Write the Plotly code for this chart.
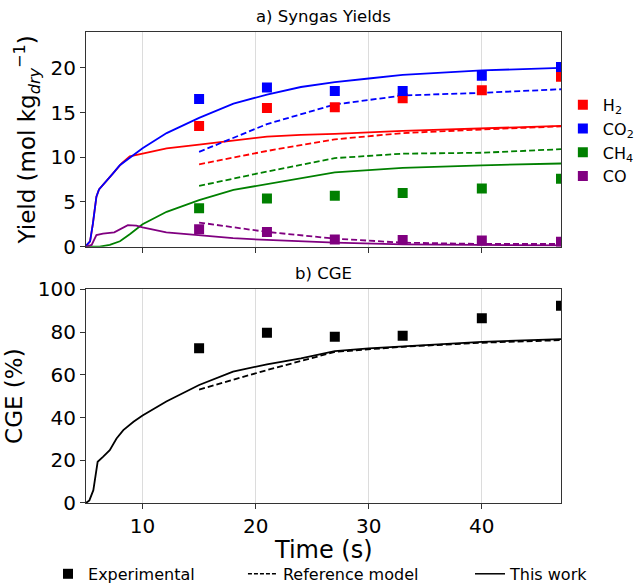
import plotly.graph_objects as go
from plotly.subplots import make_subplots

# ---------------- data ----------------
t_exp = [15, 21, 27, 33, 40, 47]
h2_exp = [13.5, 15.5, 15.6, 16.6, 17.5, 19.0]
co2_exp = [16.5, 17.8, 17.4, 17.4, 19.1, 20.1]
ch4_exp = [4.3, 5.4, 5.7, 6.0, 6.5, 7.6]
co_exp = [1.95, 1.65, 0.8, 0.75, 0.7, 0.55]
cge_exp = [72.4, 79.7, 77.8, 78.3, 86.4, 92.3]

# reference model (dashed)
t_ref = [15, 21, 27, 33, 40, 47]
h2_ref = [9.2, 10.7, 12.0, 12.7, 13.1, 13.45]
co2_ref = [10.6, 13.7, 15.9, 16.9, 17.2, 17.6]
ch4_ref = [6.8, 8.4, 9.9, 10.4, 10.5, 10.9]
co_ref = [2.7, 1.65, 0.9, 0.45, 0.3, 0.3]
cge_ref = [53.1, 62.2, 70.7, 73.1, 75.0, 76.2]

# this work (solid)
t_co2 = [5.0, 5.36, 5.6, 5.92, 6.15, 6.8, 7.39, 7.99, 8.87, 10, 12.13, 15, 18.04, 21, 24, 27, 30, 33, 40, 47]
co2_mod = [0.1, 0.6, 2.5, 5.6, 6.4, 7.3, 8.2, 9.1, 9.9, 11.0, 12.7, 14.4, 16.0, 17.0, 17.85, 18.4, 18.8, 19.2, 19.7, 20.0]

t_h2 = [5.0, 5.36, 5.6, 5.92, 6.15, 6.8, 7.39, 8.15, 8.87, 10, 12.13, 15, 21, 24, 27, 33, 40, 47]
h2_mod = [0.1, 0.6, 2.5, 5.6, 6.4, 7.3, 8.2, 9.3, 10.1, 10.4, 11.0, 11.4, 12.3, 12.5, 12.6, 12.95, 13.25, 13.5]

t_ch4 = [5.0, 6.2, 7.1, 8.0, 8.87, 10, 12.13, 15, 18.04, 21, 24, 27, 33, 40, 47]
ch4_mod = [0.0, 0.0, 0.2, 0.6, 1.4, 2.5, 3.9, 5.2, 6.35, 7.0, 7.65, 8.3, 8.8, 9.1, 9.3]

t_co = [5.0, 5.5, 5.92, 6.5, 7.5, 8.1, 8.7, 9.45, 10, 12.1, 15, 18, 21, 25.7, 27, 33, 40, 47]
co_mod = [0.0, 0.2, 1.3, 1.45, 1.6, 2.0, 2.4, 2.35, 2.15, 1.6, 1.25, 0.95, 0.75, 0.5, 0.45, 0.25, 0.2, 0.15]

t_cge = [5.0, 5.3, 5.65, 6.03, 6.5, 7.1, 7.7, 8.3, 9.2, 10, 12.1, 15, 18, 21, 24, 27, 30, 33, 40, 47]
cge_mod = [0.0, 1.2, 6.0, 19.3, 21.6, 24.7, 30.2, 34.1, 38.0, 40.9, 47.5, 55.2, 61.5, 64.9, 67.7, 71.1, 72.4, 73.4, 75.4, 76.7]

species = ["H<sub>2</sub>", "CO<sub>2</sub>", "CH<sub>4</sub>", "CO"]
colors = ["red", "blue", "green", "purple"]
bottom_names = ["Experimental", "Reference model", "This work"]

x_ticks = [10, 20, 30, 40]
y1_ticks = [0, 5, 10, 15, 20]
y2_ticks = [0, 20, 40, 60, 80, 100]

# ---------------- figure ----------------
fig = make_subplots(rows=2, cols=1, shared_xaxes=False)

exp_sets = [h2_exp, co2_exp, ch4_exp, co_exp]
ref_sets = [h2_ref, co2_ref, ch4_ref, co_ref]
mod_sets = [(t_h2, h2_mod), (t_co2, co2_mod), (t_ch4, ch4_mod), (t_co, co_mod)]

LW = 1.8
DASH = "6px,3px"

for (tm, ym), c in zip(mod_sets, colors):
    fig.add_trace(go.Scatter(x=tm, y=ym, mode="lines", line=dict(color=c, width=LW),
                             showlegend=False), row=1, col=1)
for yr, c in zip(ref_sets, colors):
    fig.add_trace(go.Scatter(x=t_ref, y=yr, mode="lines", line=dict(color=c, width=LW, dash=DASH),
                             showlegend=False), row=1, col=1)
for ye, c, name in zip(exp_sets, colors, species):
    fig.add_trace(go.Scatter(x=t_exp, y=ye, mode="markers", name=name,
                             marker=dict(symbol="square", size=10, color=c),
                             legend="legend"), row=1, col=1)

fig.add_trace(go.Scatter(x=t_cge, y=cge_mod, mode="lines", line=dict(color="black", width=LW),
                         showlegend=False), row=2, col=1)
fig.add_trace(go.Scatter(x=t_ref, y=cge_ref, mode="lines", line=dict(color="black", width=LW, dash=DASH),
                         showlegend=False), row=2, col=1)
fig.add_trace(go.Scatter(x=t_exp, y=cge_exp, mode="markers",
                         marker=dict(symbol="square", size=10, color="black"),
                         showlegend=False), row=2, col=1)

# bottom legend entries (one legend each, laid out in a row)
fig.add_trace(go.Scatter(x=[None], y=[None], mode="markers", name=bottom_names[0],
                         marker=dict(symbol="square", size=10, color="black"),
                         legend="legend2"), row=2, col=1)
fig.add_trace(go.Scatter(x=[None], y=[None], mode="lines", name=bottom_names[1],
                         line=dict(color="black", width=1.5, dash="4px,2px"),
                         legend="legend3"), row=2, col=1)
fig.add_trace(go.Scatter(x=[None], y=[None], mode="lines", name=bottom_names[2],
                         line=dict(color="black", width=1.5),
                         legend="legend4"), row=2, col=1)

FONT = "DejaVu Sans"
axis_common = dict(showline=True, mirror=True, linecolor="#333333", linewidth=1,
                   ticks="outside", ticklen=5, tickcolor="#333333",
                   tickfont=dict(size=20, color="black", family=FONT), zeroline=False)

fig.update_xaxes(range=[5, 47], tickvals=x_ticks, showgrid=True, gridcolor="#dcdcdc", gridwidth=1,
                 **axis_common)
fig.update_xaxes(showticklabels=False, row=1, col=1)
fig.update_yaxes(showgrid=False, **axis_common)
fig.update_yaxes(range=[0, 24], tickvals=y1_ticks, row=1, col=1,
                 title=dict(text="Yield (mol kg<sub><i>dry</i></sub><sup>\u22121</sup>)",
                            font=dict(size=23, family=FONT, color="black"), standoff=8))
fig.update_yaxes(range=[0, 100], tickvals=y2_ticks, row=2, col=1,
                 title=dict(text="CGE (%)", font=dict(size=23, family=FONT, color="black"), standoff=8))

bl = dict(xref="container", yref="container", orientation="h", xanchor="left",
          y=0.019, yanchor="middle", font=dict(size=16, family=FONT), bgcolor="rgba(0,0,0,0)")

fig.update_layout(
    width=636, height=585,
    margin=dict(l=86, r=75, t=32, b=82, autoexpand=False),
    plot_bgcolor="white", paper_bgcolor="white",
    font=dict(family=FONT, color="black"),
    yaxis=dict(domain=[0.5442, 1.0]),
    yaxis2=dict(domain=[0.0, 0.4537]),
    legend=dict(xref="container", yref="container", x=0.885, xanchor="left", y=0.85, yanchor="top",
                font=dict(size=16, family=FONT),
                bgcolor="rgba(0,0,0,0)", borderwidth=0, tracegroupgap=0),
    legend2=dict(bl, x=0.0755),
    legend3=dict(bl, x=0.382),
    legend4=dict(bl, x=0.739),
    annotations=[
        dict(text="a) Syngas Yields", x=0.5, xref="paper", y=1.0, yref="paper",
             xanchor="center", yanchor="bottom", yshift=4, showarrow=False,
             font=dict(size=16.5, family=FONT, color="black")),
        dict(text="b) CGE", x=0.5, xref="paper", y=0.4537, yref="paper",
             xanchor="center", yanchor="bottom", yshift=4, showarrow=False,
             font=dict(size=16.5, family=FONT, color="black")),
        dict(text="Time (s)", x=0.5, xref="paper", y=0.0, yref="paper",
             xanchor="center", yanchor="middle", yshift=-47, showarrow=False,
             font=dict(size=24, family=FONT, color="black")),
    ],
)

fig.write_html("out.html")
